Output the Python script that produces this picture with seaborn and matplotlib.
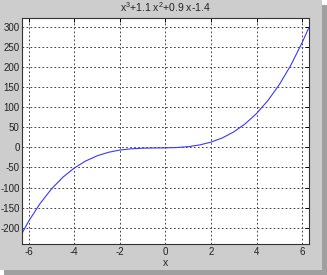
import matplotlib
matplotlib.use("Agg")
import matplotlib.pyplot as plt
import seaborn as sns
import pandas as pd
from matplotlib.patches import Rectangle

# Values
x_vals = [-6.28, -6.0, -5.5, -5.0, -4.5, -4.0, -3.5, -3.0, -2.5, -2.0, -1.5, -1.0, -0.5,
          0.0, 0.5, 1.0, 1.5, 2.0, 2.5, 3.0, 3.5, 4.0, 4.5, 5.0, 5.5, 6.0, 6.28]
y_vals = [-212.0, -183.2, -139.5, -103.4, -74.3, -51.4, -34.0, -21.2, -12.4, -6.8, -3.7, -2.2, -1.7,
          -1.4, -0.55, 1.6, 5.8, 12.8, 23.3, 38.2, 58.1, 83.8, 116.1, 155.6, 203.2, 259.6, 295.0]
x_ticks = [-6, -4, -2, 0, 2, 4, 6]
y_ticks = [-200, -150, -100, -50, 0, 50, 100, 150, 200, 250, 300]
title_text = "x$^3$+1.1 x$^2$+0.9 x-1.4"
x_label = "x"

sns.set_theme(style="white")
plt.rcParams['font.family'] = ['Liberation Sans', 'DejaVu Sans']
plt.rcParams['mathtext.fontset'] = 'custom'
plt.rcParams['mathtext.rm'] = 'Liberation Sans'
plt.rcParams['mathtext.it'] = 'Liberation Sans'

fig = plt.figure(figsize=(3.27, 2.75), dpi=100)
fig.patch.set_facecolor("white")
# window background and drop shadow
fig.patches.append(Rectangle((4/327, 0), 323/327, 270/275, transform=fig.transFigure,
                             facecolor="#a0a0a0", edgecolor="none", zorder=-3))
fig.patches.append(Rectangle((0, 5/275), 322/327, 270/275, transform=fig.transFigure,
                             facecolor="#cdcdcd", edgecolor="none", zorder=-2))

ax = fig.add_axes([22.3/327, 1 - 244.3/275, 286.2/327, 226.6/275])
ax.set_facecolor("white")

df = pd.DataFrame({"x": x_vals, "y": y_vals})
sns.lineplot(data=df, x="x", y="y", ax=ax, color="#3838ff", linewidth=0.8, sort=True)

ax.set_xlim(-6.2832, 6.2832)
ax.set_ylim(-241, 322)
ax.set_xticks(x_ticks)
ax.set_yticks(y_ticks)
ax.set_xticklabels([str(t) for t in x_ticks])
ax.set_yticklabels([str(t) for t in y_ticks])
ax.grid(True, color="#444444", linestyle=(0, (1.8, 2.3)), linewidth=0.7)
ax.tick_params(axis="both", direction="in", length=3, width=0.7, labelsize=7,
               colors="black", labelcolor="#222222", top=True, right=True, pad=2)
for s in ax.spines.values():
    s.set_color("#333333")
    s.set_linewidth(0.8)
ax.set_xlabel(x_label, fontsize=7.5, labelpad=1, color="#222222")
ax.set_ylabel("")
ax.set_title(title_text, fontsize=7.5, pad=4, color="#222222")

fig.savefig("out.png", dpi=100, facecolor=fig.get_facecolor())
